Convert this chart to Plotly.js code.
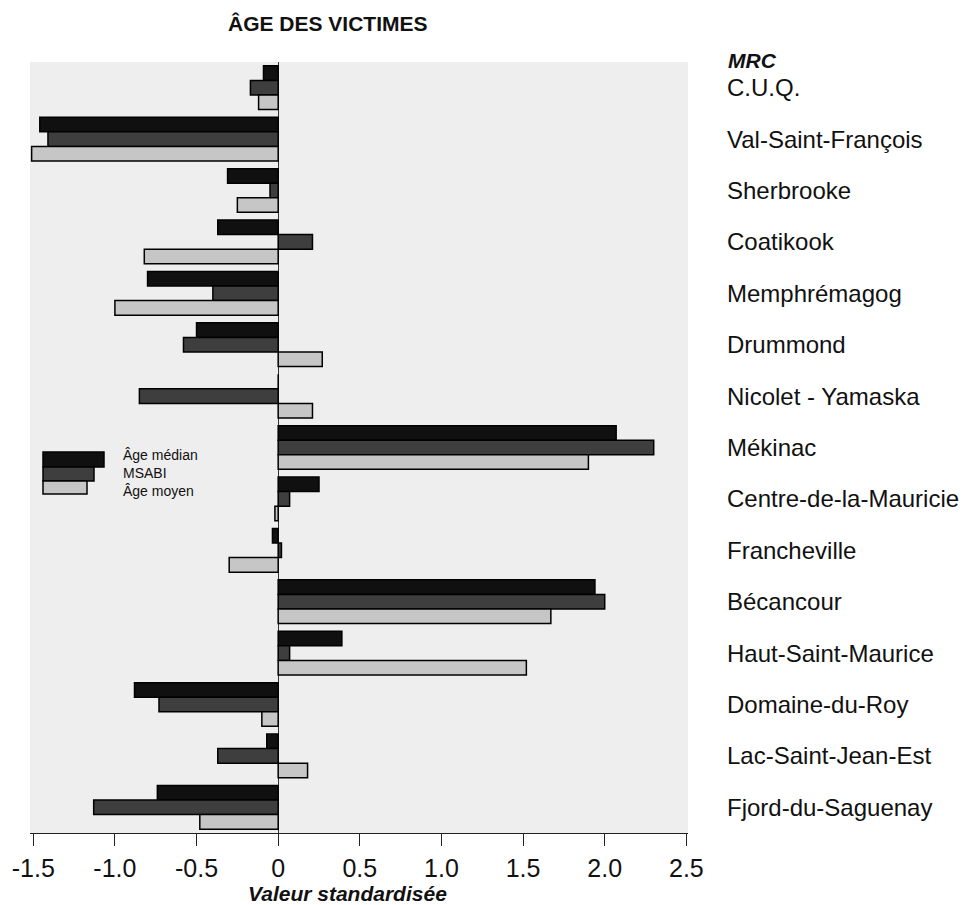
<!DOCTYPE html>
<html>
<head>
<meta charset="utf-8">
<script src="https://cdn.plot.ly/plotly-3.0.1.min.js"></script>
<style>html,body{margin:0;padding:0;background:#fff;}#chart{width:967px;height:905px;}</style>
</head>
<body>
<div id="chart"></div>
<script>
// ---- Data ----
const categories = ['C.U.Q.', 'Val-Saint-François', 'Sherbrooke', 'Coatikook', 'Memphrémagog', 'Drummond', 'Nicolet - Yamaska', 'Mékinac', 'Centre-de-la-Mauricie', 'Francheville', 'Bécancour', 'Haut-Saint-Maurice', 'Domaine-du-Roy', 'Lac-Saint-Jean-Est', 'Fjord-du-Saguenay'];
const ageMedian = [-0.09, -1.46, -0.31, -0.37, -0.80, -0.50, 0, 2.07, 0.25, -0.035, 1.94, 0.39, -0.88, -0.07, -0.74];
const msabi     = [-0.17, -1.41, -0.05, 0.21, -0.40, -0.58, -0.85, 2.30, 0.07, 0.02, 2.00, 0.07, -0.73, -0.37, -1.13];
const ageMoyen  = [-0.12, -1.51, -0.25, -0.82, -1.00, 0.27, 0.21, 1.90, -0.02, -0.30, 1.67, 1.52, -0.10, 0.18, -0.48];
const seriesNames = ['Âge médian', 'MSABI', 'Âge moyen'];
const tickVals = [-1.5, -1.0, -0.5, 0, 0.5, 1.0, 1.5, 2.0, 2.5];
const tickText = ['-1.5', '-1.0', '-0.5', '0', '0.5', '1.0', '1.5', '2.0', '2.5'];

// ---- Style ----
const FONT = 'Liberation Sans, Arial, Helvetica, sans-serif';
const colors = ['#101010', '#3e3e3e', '#c6c6c6'];
const seriesValues = [ageMedian, msabi, ageMoyen];

const traces = seriesValues.map((vals, i) => ({
  type: 'bar',
  orientation: 'h',
  name: seriesNames[i],
  y: categories,
  x: vals,
  marker: { color: colors[i], line: { color: '#000', width: 1.5 } },
  hoverinfo: 'x+y+name'
}));

// plot-area pixel helpers for custom legend placement
const L = 30, R = 688, T = 62, B = 833;
const px = v => (v - L) / (R - L);
const py = v => (B - v) / (B - T);

const legendBoxes = [
  { x0: 43, x1: 104, y0: 452, y1: 467 },
  { x0: 43, x1: 94, y0: 467, y1: 481 },
  { x0: 43, x1: 87, y0: 481, y1: 494 }
];
const legendTextY = [455, 473, 491];

const shapes = legendBoxes.map((b, i) => ({
  type: 'rect', xref: 'paper', yref: 'paper',
  x0: px(b.x0), x1: px(b.x1), y0: py(b.y1), y1: py(b.y0),
  fillcolor: colors[i], line: { color: '#000', width: 1.5 }
}));

const annotations = seriesNames.map((n, i) => ({
  xref: 'paper', yref: 'paper', x: px(121), y: py(legendTextY[i]),
  xanchor: 'left', yanchor: 'middle', showarrow: false,
  text: n, font: { family: FONT, size: 14, color: '#111' }
}));
annotations.push({
  xref: 'paper', yref: 'paper', x: px(726), y: py(60),
  xanchor: 'left', yanchor: 'middle', showarrow: false,
  text: '<b><i>MRC</i></b>', font: { family: FONT, size: 21, color: '#111' }
});
annotations.push({
  xref: 'paper', yref: 'paper', x: px(347), y: py(893),
  xanchor: 'center', yanchor: 'middle', showarrow: false,
  text: '<b><i>Valeur standardisée</i></b>', font: { family: FONT, size: 21, color: '#111' }
});

const layout = {
  width: 967, height: 905,
  margin: { l: L, r: 967 - R, t: T, b: 905 - B, pad: 0 },
  paper_bgcolor: '#ffffff',
  plot_bgcolor: '#eeeeee',
  showlegend: false,
  barmode: 'group',
  bargap: 0.15,
  bargroupgap: 0,
  title: {
    text: '<b>ÂGE DES VICTIMES</b>',
    font: { family: FONT, size: 21, color: '#111' },
    xref: 'container', x: 228 / 967, xanchor: 'left',
    yref: 'container', y: 1 - 24 / 905, yanchor: 'middle'
  },
  xaxis: {
    range: [-1.52, 2.51],
    tickvals: tickVals,
    ticktext: tickText,
    ticks: 'outside', ticklen: 12, tickwidth: 1, tickcolor: '#222',
    ticklabelstandoff: 1,
    showline: true, linecolor: '#222', linewidth: 1,
    showgrid: false,
    zeroline: true, zerolinecolor: '#333', zerolinewidth: 1,
    tickfont: { family: FONT, size: 25, color: '#111' },
    fixedrange: true
  },
  yaxis: {
    type: 'category',
    autorange: 'reversed',
    side: 'right',
    showline: false, showgrid: false, zeroline: false,
    ticks: '',
    ticklabelstandoff: 38,
    tickfont: { family: FONT, size: 24, color: '#111' },
    fixedrange: true
  },
  shapes: shapes,
  annotations: annotations
};

Plotly.newPlot('chart', traces, layout, { displayModeBar: false, staticPlot: true });
</script>
</body>
</html>
